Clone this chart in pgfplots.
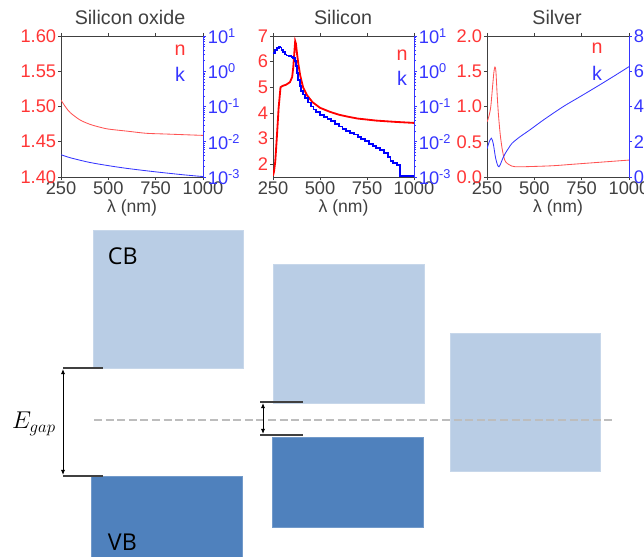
\documentclass[border=0pt]{standalone}
\usepackage{fontspec}
\setmainfont{Liberation Sans}
\newfontfamily\osans{Open Sans}
\usepackage{pgfplots}
\pgfplotsset{compat=1.18}
\usetikzlibrary{arrows.meta}
\definecolor{nred}{HTML}{FF3535}
\definecolor{kblue}{HTML}{3535FF}
\definecolor{axgray}{HTML}{404040}
\definecolor{cbblue}{HTML}{B9CDE5}
\definecolor{vbblue}{HTML}{4F81BD}
\definecolor{dashgray}{HTML}{BDBDBD}

% 1 px of the reference = 0.25mm, y grows downward -> negative
\pgfkeys{/pgf/number format/assume math mode=true}
\pgfplotsset{
  panel/.style={scale only axis, anchor=south west, height=35.25mm,
    xmin=250, xmax=1000, xtick={250,500,750,1000},
    font=\fontsize{13}{15}\selectfont,
    tick align=outside, major tick length=0.8mm, minor tick length=0.5mm,
    axis line style={axgray, line width=0.6pt}},
  nside/.style={panel, axis y line*=left,
    yticklabel style={nred, inner xsep=1pt},
    xticklabel style={axgray, inner ysep=1pt, /pgf/number format/1000 sep={}},
    every tick/.style={axgray},
    xlabel={λ (nm)}, xlabel style={axgray, font=\fontsize{12.5}{14}\selectfont, yshift=0.4mm}},
  kside/.style={panel, axis y line*=right, axis x line=none,
    y axis line style={kblue, line width=0.6pt},
    yticklabel style={kblue, inner xsep=1pt},
    every tick/.style={kblue}},
}

\begin{document}
\begin{tikzpicture}
\path[use as bounding box] (0,0) rectangle (161mm,-139.25mm);

% ---------- Silicon oxide
\begin{axis}[nside, at={(15.25mm,-44.25mm)}, width=35.5mm, ymin=1.40, ymax=1.60,
  ytick={1.40,1.45,1.50,1.55,1.60},
  yticklabel style={/pgf/number format/fixed, /pgf/number format/fixed zerofill, /pgf/number format/precision=2}]
  \addplot[nred!85, line width=0.6pt, smooth] coordinates {
    (250,1.509)(275,1.499)(300,1.491)(350,1.481)(400,1.475)(450,1.471)
    (500,1.468)(600,1.465)(700,1.462)(800,1.461)(900,1.460)(1000,1.459)};
\end{axis}
\begin{axis}[kside, ymode=log, ymin=1e-3, ymax=10, ytick={1e-3,1e-2,1e-1,1,10},
  yticklabels={10\textsuperscript{-3},10\textsuperscript{-2},10\textsuperscript{-1},10\textsuperscript{0},10\textsuperscript{1}},
  at={(15.25mm,-44.25mm)}, width=35.5mm]
  \addplot[kblue, line width=0.6pt, smooth] coordinates {
    (250,4.3e-3)(300,3.5e-3)(400,2.6e-3)(500,2.1e-3)(600,1.75e-3)
    (750,1.4e-3)(900,1.15e-3)(1000,1.03e-3)};
\end{axis}
\node[axgray, font=\fontsize{14}{16}\selectfont] at (32.5mm,-4.25mm) {Silicon oxide};
\node[nred, font=\fontsize{14}{16}\selectfont] at (45mm,-12.5mm) {n};
\node[kblue, font=\fontsize{14}{16}\selectfont] at (45mm,-18.5mm) {k};

% ---------- Silicon
\begin{axis}[nside, at={(68.25mm,-44.25mm)}, width=35.25mm, ymin=1.5, ymax=7,
  ytick={2,3,4,5,6,7}]
  \addplot[red, line width=1.3pt] coordinates {
    (250,1.55)(255,1.7)(262,2.1)(270,3.0)(280,4.2)(290,5.0)(300,5.05)(320,5.1)
    (340,5.2)(352,5.4)(358,5.8)(363,6.3)(368,6.8)(372,6.7)(378,6.3)(385,5.9)
    (395,5.45)(410,5.0)(430,4.7)(460,4.42)(500,4.2)(550,4.05)(600,3.93)
    (650,3.85)(700,3.78)(750,3.74)(800,3.70)(900,3.65)(1000,3.61)};
\end{axis}
\begin{axis}[kside, ymode=log, ymin=1e-3, ymax=10, ytick={1e-3,1e-2,1e-1,1,10},
  yticklabels={10\textsuperscript{-3},10\textsuperscript{-2},10\textsuperscript{-1},10\textsuperscript{0},10\textsuperscript{1}},
  at={(68.25mm,-44.25mm)}, width=35.25mm]
  \addplot[blue, line width=1.3pt, const plot] coordinates {
    (250,3.3)(262,3.9)(272,4.5)(280,4.9)(288,4.7)(295,4.0)(302,3.5)(312,3.0)
    (322,2.8)(335,2.7)(348,2.55)(358,2.4)(365,2.0)(372,1.4)(378,0.9)(385,0.55)
    (392,0.38)(400,0.28)(410,0.22)(420,0.17)(435,0.13)(450,0.10)(465,0.082)
    (480,0.068)(500,0.057)(520,0.05)(540,0.044)(560,0.038)(580,0.032)
    (600,0.027)(620,0.023)(640,0.02)(660,0.018)(680,0.016)(700,0.014)
    (720,0.012)(740,0.0103)(760,0.0088)(780,0.0076)(800,0.0066)(820,0.0057)
    (840,0.0048)(860,0.0036)(875,0.0028)(890,0.0025)(910,0.0022)(925,0.00105)
    (1000,0.00105)};
\end{axis}
\node[axgray, font=\fontsize{14}{16}\selectfont] at (85.75mm,-4.25mm) {Silicon};
\node[nred, font=\fontsize{14}{16}\selectfont] at (100.5mm,-13.75mm) {n};
\node[kblue, font=\fontsize{14}{16}\selectfont] at (100.5mm,-19.5mm) {k};

% ---------- Silver
\begin{axis}[nside, at={(121.75mm,-44.25mm)}, width=35.5mm, ymin=0, ymax=2,
  ytick={0,0.5,1,1.5,2},
  yticklabel style={/pgf/number format/fixed, /pgf/number format/fixed zerofill, /pgf/number format/precision=1}]
  \addplot[nred!85, line width=0.6pt, smooth] coordinates {
    (250,0.78)(260,0.86)(270,1.0)(280,1.3)(287,1.5)(292,1.56)(297,1.5)
    (303,1.2)(310,0.9)(320,0.6)(330,0.4)(340,0.27)(350,0.21)(370,0.17)
    (400,0.145)(500,0.15)(600,0.16)(700,0.18)(800,0.2)(900,0.22)(1000,0.24)};
\end{axis}
\begin{axis}[kside, at={(121.75mm,-44.25mm)}, width=35.5mm, ymin=0, ymax=8,
  ytick={0,2,4,6,8}]
  \addplot[kblue, line width=0.6pt, smooth] coordinates {
    (250,1.6)(262,2.0)(273,2.2)(283,1.9)(295,1.1)(305,0.7)(313,0.58)
    (322,0.75)(333,1.05)(347,1.35)(365,1.65)(382,1.91)(420,2.25)(476,2.67)
    (550,3.25)(652,3.99)(740,4.55)(829,5.12)(920,5.72)(1000,6.26)};
\end{axis}
\node[axgray, font=\fontsize{14}{16}\selectfont] at (139.25mm,-4.25mm) {Silver};
\node[nred, font=\fontsize{14}{16}\selectfont] at (149.25mm,-12mm) {n};
\node[kblue, font=\fontsize{14}{16}\selectfont] at (149.25mm,-18.25mm) {k};

% ---------- band diagram (axis units = reference pixels)
\begin{axis}[scale only axis, anchor=south west, at={(0mm,-139.25mm)},
  width=161mm, height=84.25mm, xmin=0, xmax=644, ymin=220, ymax=557,
  y dir=reverse, hide axis, clip=false]
  \addplot[fill=cbblue, draw=cbblue!80] coordinates {(93,230)(243,230)(243,368)(93,368)} -- cycle;
  \addplot[fill=vbblue, draw=vbblue!80] coordinates {(91,476)(242,476)(242,557)(91,557)} -- cycle;
  \addplot[fill=cbblue, draw=cbblue!80] coordinates {(273,264)(424,264)(424,403)(273,403)} -- cycle;
  \addplot[fill=vbblue, draw=vbblue!80] coordinates {(272,437)(423,437)(423,527)(272,527)} -- cycle;
  \addplot[fill=cbblue, draw=cbblue!80] coordinates {(450,333)(600,333)(600,471)(450,471)} -- cycle;
  \addplot[dashgray, line width=0.4mm, dash pattern=on 2mm off 0.9mm] coordinates {(94,420)(613,420)};
  \addplot[axgray, line width=0.35mm] coordinates {(63,368)(103,368)};
  \addplot[axgray, line width=0.35mm] coordinates {(63,476)(103,476)};
  \addplot[black, line width=0.25mm, {Latex[length=1.3mm,width=1.1mm]}-{Latex[length=1.3mm,width=1.1mm]}] coordinates {(63,369)(63,475)};
  \addplot[axgray, line width=0.35mm] coordinates {(260,402)(303,402)};
  \addplot[axgray, line width=0.35mm] coordinates {(260,435)(303,435)};
  \addplot[black, line width=0.25mm, {Latex[length=1.3mm,width=1.1mm]}-{Latex[length=1.3mm,width=1.1mm]}] coordinates {(263,403)(263,434)};
  \node[anchor=west, font=\osans\fontsize{16.5}{18}\selectfont] at (axis cs:103,256) {CB};
  \node[anchor=west, font=\osans\fontsize{16.5}{18}\selectfont] at (axis cs:103,542) {VB};
  \node[font=\fontsize{18}{20}\selectfont] at (axis cs:34,424) {$E_{gap}$};
\end{axis}
\end{tikzpicture}
\end{document}
